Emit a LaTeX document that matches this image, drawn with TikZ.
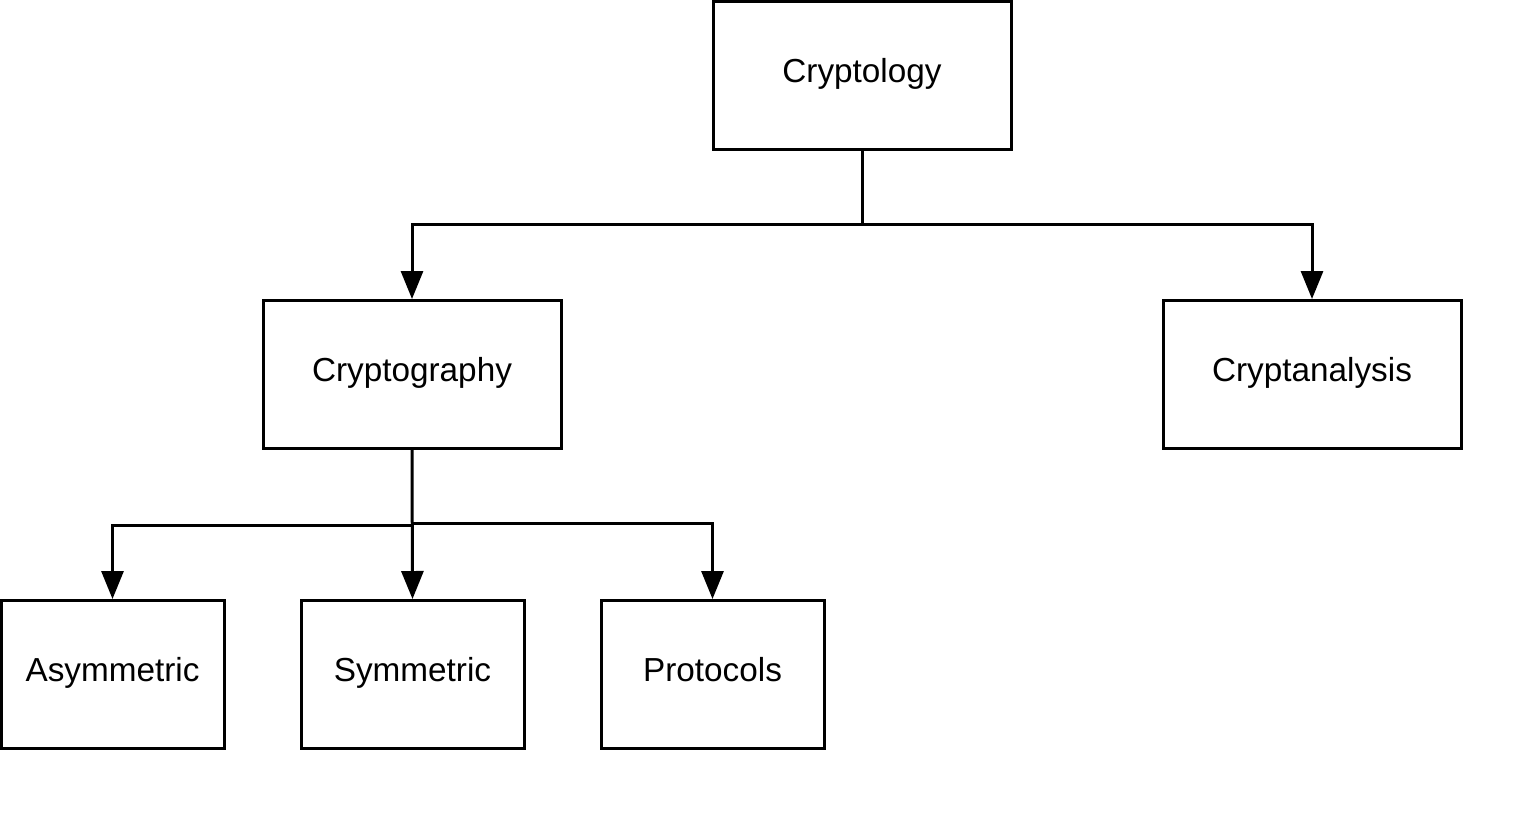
\documentclass[tikz,border=0pt]{standalone}
\usepackage{fontspec}
\setmainfont{Liberation Sans}
\usetikzlibrary{arrows.meta}
\begin{document}
\begin{tikzpicture}[x=1pt,y=-1pt,
  box/.style={draw=black,line width=3pt,fill=white,inner sep=0pt,
    font=\fontsize{33.3}{38}\selectfont,text height=24pt,text depth=10pt},
  bigbox/.style={box,minimum width=298pt,minimum height=148pt},
  smallbox/.style={box,minimum width=223pt,minimum height=148pt},
  conn/.style={line width=3pt,-{Triangle[width=22pt,length=28pt]}},
  plain/.style={line width=3pt}]
\useasboundingbox (0,0) rectangle (1538,825);
\node[bigbox] (crypto) at (862,75) {Cryptology};
\node[bigbox] (graphy) at (412,374.5) {Cryptography};
\node[bigbox] (analysis) at (1312,374.5) {Cryptanalysis};
\node[smallbox] (asym) at (112.5,674.5) {Asymmetric};
\node[smallbox] (sym) at (412.5,674.5) {Symmetric};
\node[smallbox] (proto) at (712.5,674.5) {Protocols};
\coordinate (j1) at (862,224);
\coordinate (j2) at (412,523);
\coordinate (j3) at (412,525);
\draw[plain] (crypto.south) -- (j1);
\draw[conn] (j1) -| (graphy.north);
\draw[conn] (j1) -| (analysis.north);
\draw[conn] (graphy.south) -- (sym.north);
\draw[conn] (j3) -| (asym.north);
\draw[conn] (j2) -| (proto.north);
\end{tikzpicture}
\end{document}
